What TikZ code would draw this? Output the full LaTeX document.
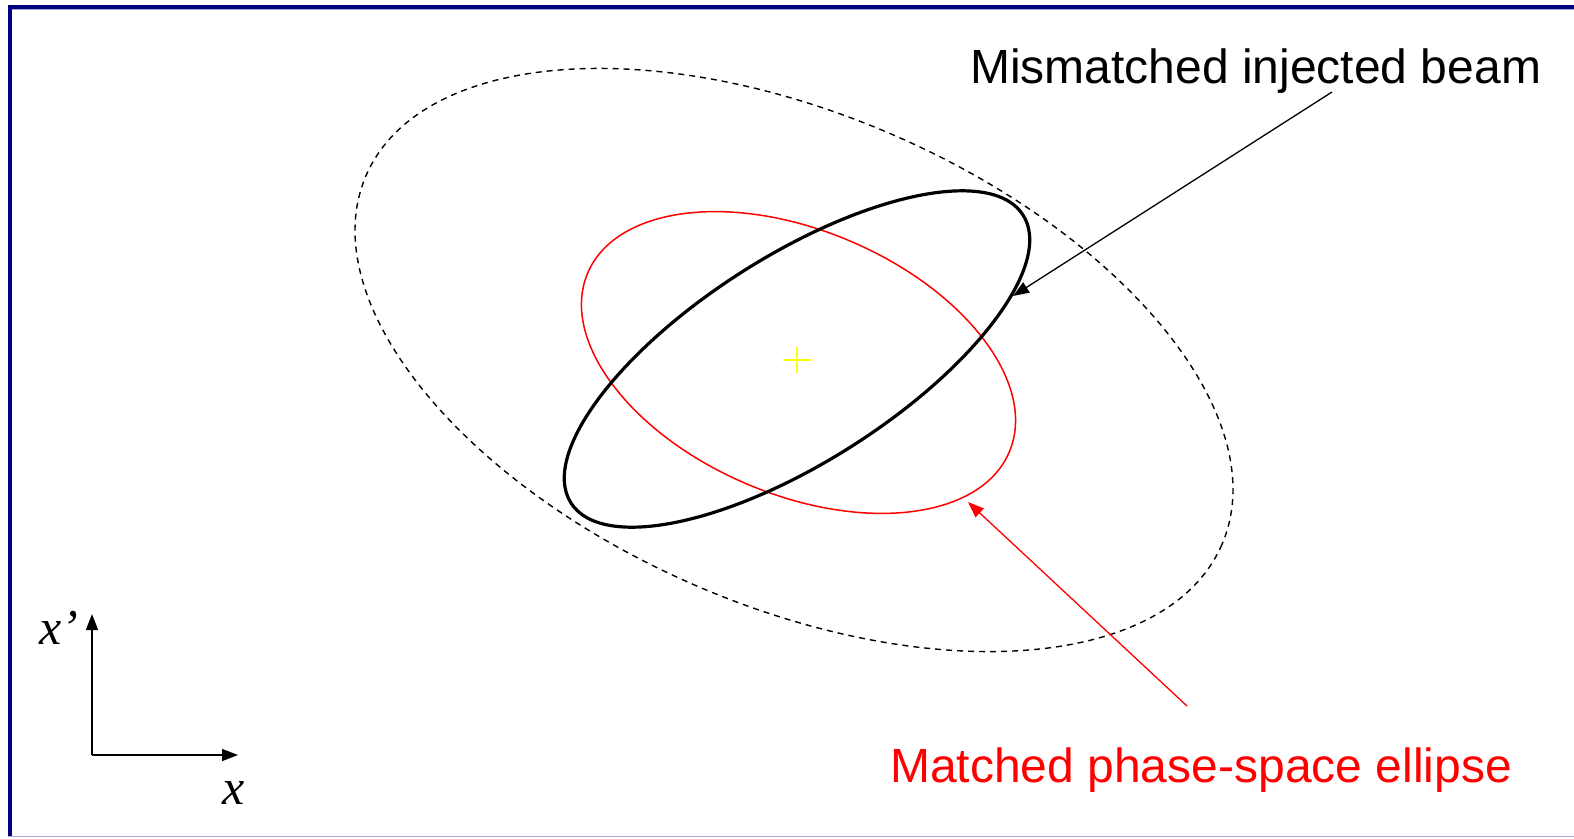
\documentclass[tikz,border=0pt]{standalone}
\usepackage{fontspec}
\setmainfont{Liberation Sans}
\newfontfamily\serifit{Liberation Serif}
\usetikzlibrary{arrows.meta}
\definecolor{navy}{RGB}{0,0,128}
\definecolor{lav}{RGB}{168,168,224}
\definecolor{beamred}{RGB}{255,0,0}
\definecolor{crossyel}{RGB}{255,255,0}
\tikzset{
  lbl/.style={inner sep=0pt, font=\fontsize{48}{50}\selectfont},
  axlbl/.style={inner sep=0pt, font=\fontsize{50}{52}\selectfont\serifit\itshape},
  tip/.style={-{Triangle[length=16pt,width=12pt]}},
  matched/.style={draw=beamred, line width=1.5pt},
  injected/.style={draw=black, line width=3.2pt},
  envelope/.style={draw=black, line width=1.4pt, dash pattern=on 6pt off 5pt},
}
\begin{document}
\begin{tikzpicture}[x=1pt,y=-1pt]
\useasboundingbox (0,0) rectangle (1574,838);
% frame
\fill[navy] (8,5) rectangle (1574,9);
\fill[navy] (8,5) rectangle (12,836);
\draw[lav, line width=1pt] (12,9.5) -- (1574,9.5);
\draw[lav, line width=1.5pt] (8,836.5) -- (1574,836.5);
% filamented envelope
\begin{scope}[shift={(794,360)}, rotate=-23.3]
  \draw[envelope] (0,0) ellipse [x radius=466, y radius=246];
\end{scope}
% matched ellipse
\begin{scope}[shift={(798.5,362.5)}, rotate=-23]
  \draw[matched] (0,0) ellipse [x radius=229, y radius=132];
\end{scope}
% injected beam
\begin{scope}[shift={(797,359)}, rotate=32.5]
  \draw[injected] (0,0) ellipse [x radius=268, y radius=103];
\end{scope}
% centre cross
\coordinate (c) at (797,360);
\draw[crossyel, line width=1.3pt] ([xshift=-14pt]c) -- ([xshift=14pt]c);
\draw[crossyel, line width=1.3pt] ([yshift=-13pt]c) -- ([yshift=13pt]c);
% labels
\node[lbl, anchor=base west] (mis) at (970,83) {Mismatched injected beam};
\node[lbl, anchor=base west, text=beamred] (mat) at (890,782) {Matched phase-space ellipse};
\coordinate (misstart) at (1332,92);
\coordinate (mistip) at (1013,296);
\coordinate (matstart) at (1187,706);
\coordinate (mattip) at (968,502);
\draw[tip, line width=1.3pt] (misstart) -- (mistip);
\draw[tip, beamred, line width=1.3pt] (matstart) -- (mattip);
% axes
\coordinate (o) at (92,755);
\coordinate (ytip) at (92,614);
\coordinate (xtip) at (238,755);
\draw[tip, line width=1.5pt] (o) -- (ytip);
\draw[tip, line width=1.5pt] (o) -- (xtip);
\node[axlbl, anchor=base west] (xpl) at (39,644) {x’};
\node[axlbl, anchor=base west] (xl) at (222,804) {x};
\end{tikzpicture}
\end{document}
